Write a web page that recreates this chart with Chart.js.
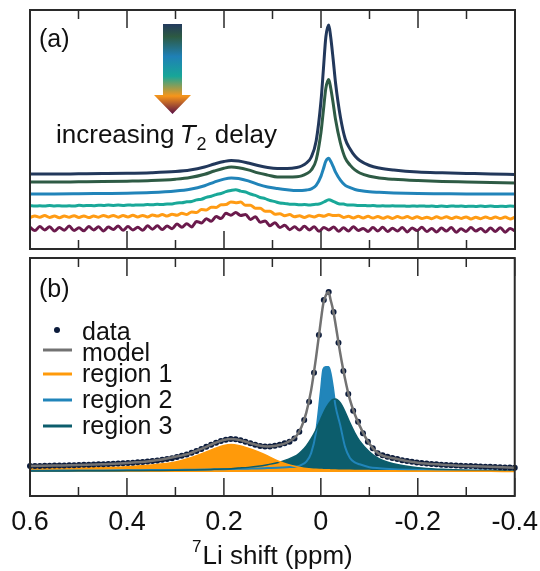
<!DOCTYPE html>
<html>
<head>
<meta charset="utf-8">
<script src="https://cdn.jsdelivr.net/npm/chart.js@4.4.1/dist/chart.umd.min.js"></script>
<style>
  body { margin: 0; background: #fff; }
  #wrap { position: relative; width: 540px; height: 571px; }
  canvas { position: absolute; left: 0; }
  #chart-top { top: 0; }
  #chart-bottom { top: 254px; }
</style>
</head>
<body>
<div id="wrap">
  <canvas id="chart-top" width="540" height="254"></canvas>
  <canvas id="chart-bottom" width="540" height="317"></canvas>
</div>
<script>
// shift axis (ppm), coarse grid for the smooth curves
const shiftCoarse = [0.6, 0.55, 0.5, 0.45, 0.4, 0.35, 0.3, 0.27, 0.24, 0.22,
  0.2, 0.185, 0.17, 0.15, 0.13, 0.11, 0.09, 0.07, 0.05, 0.04,
  0.03, 0.02, 0.01, 0, -0.005, -0.01, -0.016, -0.02, -0.025, -0.03,
  -0.04, -0.05, -0.06, -0.07, -0.08, -0.1, -0.12, -0.15, -0.2, -0.25,
  -0.3, -0.35, -0.4];

// measured points (ppm)
const shiftFine = [0.6, 0.5899, 0.5798, 0.5697, 0.5596, 0.5495, 0.5394, 0.5293, 0.5192, 0.5091,
  0.499, 0.4889, 0.4788, 0.4687, 0.4586, 0.4485, 0.4384, 0.4283, 0.4182, 0.4081,
  0.398, 0.3879, 0.3778, 0.3677, 0.3576, 0.3475, 0.3374, 0.3273, 0.3172, 0.3071,
  0.297, 0.2869, 0.2768, 0.2667, 0.2566, 0.2465, 0.2364, 0.2263, 0.2162, 0.2061,
  0.196, 0.1859, 0.1758, 0.1657, 0.1556, 0.1455, 0.1354, 0.1253, 0.1152, 0.1051,
  0.0949, 0.0848, 0.0747, 0.0646, 0.0545, 0.0444, 0.0343, 0.0242, 0.0141, 0.004,
  -0.0061, -0.0162, -0.0263, -0.0364, -0.0465, -0.0566, -0.0667, -0.0768, -0.0869, -0.097,
  -0.1071, -0.1172, -0.1273, -0.1374, -0.1475, -0.1576, -0.1677, -0.1778, -0.1879, -0.198,
  -0.2081, -0.2182, -0.2283, -0.2384, -0.2485, -0.2586, -0.2687, -0.2788, -0.2889, -0.299,
  -0.3091, -0.3192, -0.3293, -0.3394, -0.3495, -0.3596, -0.3697, -0.3798, -0.3899, -0.4];

// (a) stacked spectra, increasing T2 delay (offset already included)
const t2Delay1 = [75, 75, 75.2, 75.4, 75.7, 76.3, 77.5, 79, 82, 85,
  87.5, 88.5, 88, 86, 83.5, 81.5, 80.5, 80.5, 81.5, 83,
  86, 92, 108, 148, 180, 212, 224, 212, 190, 166,
  132, 110, 100, 93, 88.5, 83.5, 81, 79, 77, 76.2,
  75.6, 75, 74.5];
const t2Delay2 = [67, 67, 67.2, 67.4, 67.8, 68.4, 69.8, 71.4, 74.7, 78,
  80.8, 81.9, 81.3, 79.1, 76.1, 73.9, 72, 72, 72.3, 73.1,
  75.2, 79, 89, 116.7, 138.8, 160.8, 169.5, 161, 146, 129.4,
  106, 90.8, 83.9, 79.1, 76, 72.7, 71, 69.7, 68.4, 67.5,
  67, 66.5, 66];
const t2Delay3 = [55, 55, 55.2, 55.5, 55.8, 56.5, 58, 59.8, 63.3, 66.9,
  69.9, 71, 70.5, 68.1, 64.6, 62, 60.5, 59.3, 58.5, 58.6,
  59, 60.1, 63.6, 72.9, 80.3, 87.8, 90.7, 87.7, 82.6, 76.9,
  68.9, 63.6, 61.3, 59.5, 58.5, 57.2, 56.7, 56.1, 55.5, 55.3,
  55.1, 55, 55];
const t2Delay4 = [43.3, 42.9, 43.2, 42.9, 43.4, 43.0, 43.3, 42.9, 43.3, 42.9,
  43.7, 43.3, 43.6, 43.3, 43.8, 43.5, 43.9, 43.6, 43.9, 43.6,
  44.1, 43.7, 44.1, 43.9, 44.4, 44.3, 44.7, 44.4, 45.1, 45.1,
  46.1, 46.2, 47.2, 47.5, 49.1, 49.8, 51.6, 52.7, 54.4, 55.5,
  57.4, 58.5, 59.2, 57.9, 57.0, 55.0, 53.6, 51.5, 50.4, 48.5,
  47.4, 45.9, 45.6, 44.8, 44.8, 44.2, 44.4, 44.0, 44.6, 44.9,
  47.0, 49.2, 47.3, 45.3, 44.9, 43.9, 44.0, 43.4, 43.6, 43.2,
  43.4, 42.9, 43.2, 42.9, 43.3, 42.9, 43.1, 42.7, 43.0, 42.8,
  43.1, 42.7, 43.0, 42.5, 42.9, 42.6, 43.1, 42.7, 43.0, 42.5,
  42.8, 42.5, 43.0, 42.6, 42.9, 42.4, 42.8, 42.5, 43.0, 42.6];
const t2Delay5 = [31.4, 33.1, 31.7, 33.5, 31.6, 32.9, 31.2, 33.1, 31.8, 33.3,
  31.5, 33.1, 31.4, 33.0, 31.8, 33.6, 32.1, 33.6, 31.8, 33.4,
  32.1, 33.8, 32.1, 33.6, 32.0, 34.1, 32.9, 34.4, 32.9, 34.8,
  33.8, 35.8, 34.6, 37.1, 36.5, 39.5, 39.1, 41.8, 41.5, 44.3,
  44.4, 47.1, 46.3, 46.9, 43.7, 43.8, 40.8, 40.8, 37.7, 37.8,
  34.8, 35.3, 33.3, 34.4, 32.3, 33.3, 31.6, 33.2, 32.1, 33.8,
  32.8, 34.4, 33.4, 33.7, 31.6, 32.8, 31.1, 32.7, 31.1, 32.7,
  30.9, 32.6, 30.7, 32.2, 30.5, 32.4, 31.0, 32.4, 30.5, 32.2,
  30.5, 31.8, 30.3, 32.2, 30.7, 32.3, 30.4, 32.0, 30.6, 32.1,
  30.1, 31.7, 30.3, 32.1, 30.4, 32.0, 30.5, 31.9, 30.0, 31.8];
const t2Delay6 = [21.7, 18.4, 22.4, 19.1, 22.2, 17.9, 21.4, 18.8, 22.9, 18.5,
  21.2, 18.2, 22.4, 19.1, 22.2, 18.0, 21.9, 19.6, 23.1, 18.8,
  22.4, 19.1, 21.8, 18.7, 23.2, 19.8, 23.2, 19.5, 23.1, 20.3,
  24.9, 21.8, 25.3, 22.1, 27.6, 26.0, 30.3, 27.8, 32.4, 30.4,
  35.7, 33.8, 36.4, 33.6, 34.5, 29.6, 32.2, 26.7, 28.1, 23.3,
  26.3, 21.4, 23.8, 19.3, 22.2, 18.9, 22.7, 19.1, 22.2, 17.7,
  21.6, 19.0, 22.1, 17.8, 21.3, 18.0, 22.3, 18.5, 20.6, 17.5,
  21.4, 17.9, 21.8, 17.5, 20.7, 18.0, 21.5, 17.1, 21.1, 18.4,
  21.7, 17.4, 20.6, 17.1, 21.0, 17.9, 21.4, 16.8, 20.3, 17.6,
  21.4, 17.9, 20.6, 17.1, 21.0, 17.5, 21.3, 16.8, 20.5, 18.1];

// (b) fit of the first spectrum
const specData = [3.3, 3.4, 3.4, 3.5, 3.5, 3.6, 3.6, 3.7, 3.8, 3.8,
  3.9, 4.0, 4.1, 4.2, 4.3, 4.4, 4.5, 4.6, 4.7, 4.9,
  5.0, 5.2, 5.4, 5.6, 5.8, 6.1, 6.4, 6.8, 7.2, 7.7,
  8.3, 9.0, 9.8, 10.7, 11.7, 12.8, 14.0, 15.2, 16.3, 17.3,
  18.0, 18.3, 18.2, 17.7, 16.9, 16.0, 15.2, 14.5, 14.2, 14.2,
  14.6, 15.2, 16.0, 16.8, 18.7, 22.4, 28.9, 39.0, 55.2, 76.1,
  95.6, 100, 88.9, 71.8, 56.1, 43.3, 34.1, 27.9, 21.5, 16.8,
  13.2, 10.4, 9.3, 8.5, 7.8, 7.2, 6.6, 6.1, 5.7, 5.3,
  5.0, 4.7, 4.5, 4.3, 4.1, 3.9, 3.8, 3.6, 3.5, 3.4,
  3.3, 3.2, 3.1, 3.0, 2.9, 2.8, 2.7, 2.6, 2.5, 2.4];
const specModel = [3.3, 3.6, 3.9, 4.4, 5.0, 6.1, 8.5, 10.4, 13.6, 16.0,
  17.8, 18.3, 17.9, 16.4, 14.9, 14.2, 14.8, 16.4, 20.2, 25,
  33, 45.5, 63.4, 84, 93.5, 98, 100, 95.8, 90.3, 82.7,
  66, 51.7, 40.2, 32.1, 25.8, 15.7, 10.1, 7.7, 5.2, 4.1,
  3.4, 2.9, 2.4];
const region1 = [1.8, 2.0, 2.2, 2.6, 3.0, 3.9, 5.6, 7.8, 10.8, 13.0,
  14.8, 15.3, 14.8, 13.2, 11.3, 9.0, 6.3, 4.3, 2.9, 2.4,
  2.0, 1.7, 1.5, 1.4, 1.35, 1.3, 1.25, 1.2, 1.15, 1.1,
  1.05, 1.0, 0.95, 0.9, 0.85, 0.8, 0.75, 0.7, 0.6, 0.5,
  0.45, 0.4, 0.35];
const region2 = [0.8, 0.8, 0.9, 0.9, 1.0, 1.1, 1.2, 1.3, 1.4, 1.5,
  1.6, 1.7, 1.8, 1.9, 2.0, 2.2, 2.4, 2.7, 3.1, 4.0,
  5.8, 10.5, 22, 45, 57, 58.3, 58.3, 55, 47, 37,
  26, 14, 7.8, 5.4, 4.3, 2.7, 2.1, 1.6, 1.2, 1.0,
  0.9, 0.8, 0.8];
const region3 = [0.6, 0.6, 0.7, 0.7, 0.8, 0.9, 1.0, 1.1, 1.3, 1.5,
  1.7, 1.9, 2.2, 2.6, 3.2, 4.1, 5.2, 6.9, 9.2, 11.5,
  14.5, 18.5, 23.5, 29.5, 32.5, 35.2, 37.8, 39.2, 40.3, 40.6,
  38.5, 33.5, 27.3, 21.8, 17.3, 11.3, 7.4, 4.6, 2.4, 1.5,
  1.0, 0.8, 0.6];

const majorTicks = [0.6, 0.4, 0.2, 0, -0.2, -0.4];
const minorTicks = [0.5, 0.3, 0.1, -0.1, -0.3];

const FONT = '"Liberation Sans", Arial, Helvetica, sans-serif';
const pts = (xs, ys) => xs.map((x, i) => ({ x: x, y: ys[i] }));

// frame + inward ticks on both edges
const frameTicks = {
  id: "frameTicks",
  afterDraw(chart) {
    const { ctx, chartArea: a } = chart;
    const xs = chart.scales.x;
    ctx.save();
    ctx.strokeStyle = "#2a2a2a";
    ctx.lineWidth = 1.5;
    const mark = (v, len) => {
      const px = xs.getPixelForValue(v);
      ctx.beginPath();
      ctx.moveTo(px, a.top);
      ctx.lineTo(px, a.top + len);
      ctx.moveTo(px, a.bottom);
      ctx.lineTo(px, a.bottom - len);
      ctx.stroke();
    };
    majorTicks.forEach((v) => mark(v, 18));
    minorTicks.forEach((v) => mark(v, 9));
    ctx.lineWidth = 2;
    ctx.strokeRect(a.left, a.top, a.width, a.height);
    ctx.restore();
  },
};

const panelA = {
  id: "panelA",
  afterDraw(chart) {
    const ctx = chart.ctx;
    ctx.save();
    ctx.fillStyle = "#111";
    ctx.textBaseline = "alphabetic";
    ctx.font = "25px " + FONT;
    ctx.fillText("(a)", 39, 47);

    // colour arrow
    const g = ctx.createLinearGradient(0, 24, 0, 114);
    g.addColorStop(0, "#233a5e");
    g.addColorStop(0.14, "#2d5a42");
    g.addColorStop(0.36, "#1f80b6");
    g.addColorStop(0.58, "#17a698");
    g.addColorStop(0.8, "#f7951a");
    g.addColorStop(1, "#5a1045");
    ctx.fillStyle = g;
    ctx.beginPath();
    ctx.moveTo(163, 24);
    ctx.lineTo(182, 24);
    ctx.lineTo(182, 95);
    ctx.lineTo(191, 95);
    ctx.lineTo(172.5, 114);
    ctx.lineTo(154, 95);
    ctx.lineTo(163, 95);
    ctx.closePath();
    ctx.fill();

    ctx.fillStyle = "#111";
    let x = 56;
    ctx.font = "26px " + FONT;
    ctx.fillText("increasing ", x, 143);
    x += ctx.measureText("increasing ").width - 2;
    ctx.font = "italic 26px " + FONT;
    ctx.fillText("T", x, 143);
    x += ctx.measureText("T").width + 1;
    ctx.font = "18px " + FONT;
    ctx.fillText("2", x, 150);
    x += ctx.measureText("2").width + 1;
    ctx.font = "26px " + FONT;
    ctx.fillText(" delay", x, 143);
    ctx.restore();
  },
};

const panelB = {
  id: "panelB",
  afterDraw(chart) {
    const ctx = chart.ctx;
    ctx.save();
    ctx.fillStyle = "#111";
    ctx.textBaseline = "alphabetic";
    ctx.font = "25px " + FONT;
    ctx.fillText("(b)", 39, 43);

    const rows = [
      { label: "data", y: 76, base: 86, dot: "#0b1b3b" },
      { label: "model", y: 96, base: 107, line: "#727272" },
      { label: "region 1", y: 120, base: 128, line: "#ff9a0a" },
      { label: "region 2", y: 146, base: 154, line: "#2185ba" },
      { label: "region 3", y: 172, base: 180, line: "#0c5d6c" },
    ];
    rows.forEach((r) => {
      if (r.dot) {
        ctx.fillStyle = r.dot;
        ctx.beginPath();
        ctx.arc(57, r.y, 3, 0, Math.PI * 2);
        ctx.fill();
      } else {
        ctx.strokeStyle = r.line;
        ctx.lineWidth = 3;
        ctx.beginPath();
        ctx.moveTo(43, r.y);
        ctx.lineTo(72, r.y);
        ctx.stroke();
      }
      ctx.fillStyle = "#111";
      ctx.fillText(r.label, 82, r.base);
    });

    // axis title with superscript mass number
    const a = chart.chartArea;
    const cx = (a.left + a.right) / 2;
    ctx.font = "26px " + FONT;
    const main = "Li shift (ppm)";
    const wMain = ctx.measureText(main).width;
    ctx.font = "17px " + FONT;
    const wSup = ctx.measureText("7").width + 1;
    const x0 = cx - (wMain + wSup) / 2;
    ctx.fillText("7", x0, 298);
    ctx.font = "26px " + FONT;
    ctx.fillText(main, x0 + wSup, 310);
    ctx.restore();
  },
};

const traceColors = ["#22385b", "#2e5b45", "#2184b9", "#19a898", "#ff9b14", "#6b1a4c"];
const topSeries = [
  [shiftCoarse, t2Delay1],
  [shiftCoarse, t2Delay2],
  [shiftCoarse, t2Delay3],
  [shiftFine, t2Delay4],
  [shiftFine, t2Delay5],
  [shiftFine, t2Delay6],
];

new Chart(document.getElementById("chart-top").getContext("2d"), {
  type: "line",
  data: {
    datasets: topSeries.map((s, i) => ({
      data: pts(s[0], s[1]),
      borderColor: traceColors[i],
      borderWidth: 3,
      pointRadius: 0,
      fill: false,
      cubicInterpolationMode: "monotone",
    })),
  },
  options: {
    responsive: false,
    animation: false,
    events: [],
    layout: { padding: { left: 30, right: 25, top: 10, bottom: 5 } },
    plugins: { legend: { display: false }, tooltip: { enabled: false } },
    scales: {
      x: { type: "linear", reverse: true, min: -0.4, max: 0.6, display: false },
      y: { type: "linear", min: 0, max: 239, display: false },
    },
  },
  plugins: [frameTicks, panelA],
});

new Chart(document.getElementById("chart-bottom").getContext("2d"), {
  type: "line",
  data: {
    datasets: [
      {
        label: "model",
        data: pts(shiftCoarse, specModel),
        borderColor: "#727272",
        borderWidth: 2.5,
        pointRadius: 0,
        fill: false,
        cubicInterpolationMode: "monotone",
      },
      {
        label: "data",
        data: pts(shiftFine, specData),
        showLine: false,
        pointRadius: 3,
        pointBorderWidth: 0,
        pointBackgroundColor: "#0b1b3b",
        pointBorderColor: "#0b1b3b",
        clip: false,
      },
      {
        label: "region 1",
        data: pts(shiftCoarse, region1),
        borderColor: "#ff9a0a",
        backgroundColor: "#ff9a0a",
        borderWidth: 1.5,
        pointRadius: 0,
        fill: "origin",
        cubicInterpolationMode: "monotone",
      },
      {
        label: "region 3",
        data: pts(shiftCoarse, region3),
        borderColor: "#0c5d6c",
        backgroundColor: "#0c5d6c",
        borderWidth: 1.5,
        pointRadius: 0,
        fill: "origin",
        cubicInterpolationMode: "monotone",
      },
      {
        label: "region 2",
        data: pts(shiftCoarse, region2),
        borderColor: "#2185ba",
        backgroundColor: "#2185ba",
        borderWidth: 2,
        pointRadius: 0,
        fill: "origin",
        cubicInterpolationMode: "monotone",
      },
    ],
  },
  options: {
    responsive: false,
    animation: false,
    events: [],
    layout: { padding: { left: 30, right: 25, top: 4, bottom: 0 } },
    plugins: {
      legend: { display: false },
      tooltip: { enabled: false },
      filler: { drawTime: "beforeDatasetsDraw" },
    },
    scales: {
      x: {
        type: "linear",
        reverse: true,
        min: -0.4,
        max: 0.6,
        grid: { display: false },
        border: { display: false },
        afterBuildTicks: (scale) => {
          scale.ticks = majorTicks.map((v) => ({ value: v }));
        },
        afterFit: (scale) => {
          scale.height = 75;
        },
        ticks: {
          padding: 2,
          color: "#111",
          maxRotation: 0,
          autoSkip: false,
          font: { size: 27, family: FONT },
          callback: (v) => (Math.abs(v) < 1e-9 ? "0" : Number(v).toFixed(1)),
        },
        title: { display: false },
      },
      y: { type: "linear", min: -13.3, max: 118.9, display: false },
    },
  },
  plugins: [frameTicks, panelB],
});
</script>
</body>
</html>
